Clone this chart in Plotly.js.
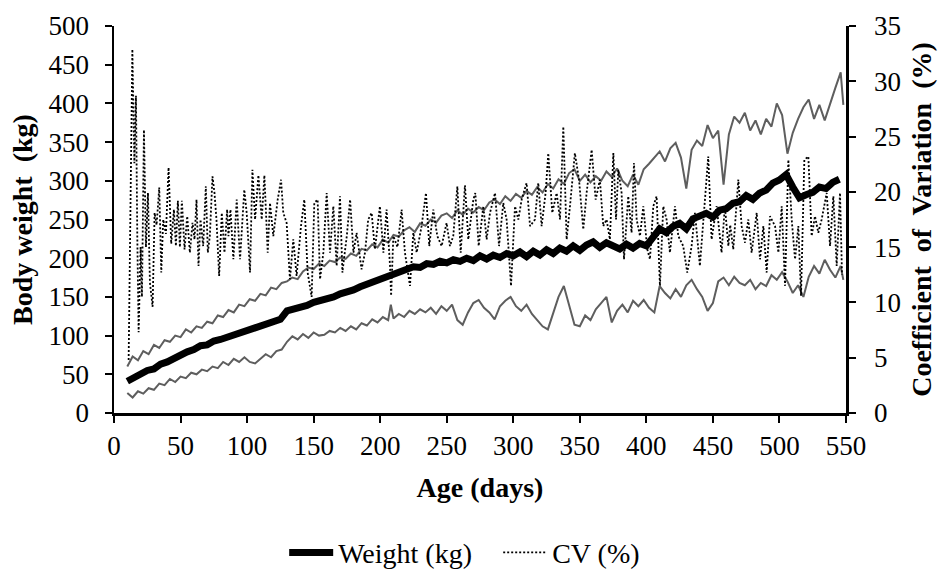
<!DOCTYPE html>
<html>
<head>
<meta charset="utf-8">
<script src="https://cdn.plot.ly/plotly-3.0.1.min.js"></script>
<style>html,body{margin:0;padding:0;background:#fff;}#chart{width:941px;height:571px;}</style>
</head>
<body>
<div id="chart"></div>
<script>
// Mean body weight (kg) by age (days)
const weightDays = [10,15,20,25,30,35,40,45,50,55,60,65,70,75,80,85,90,95,100,105,110,115,120,125,130,135,140,145,150,155,160,165,170,175,180,185,190,195,200,205,210,215,220,225,230,235,240,245,250,255,260,265,270,275,280,285,290,295,300,305,310,315,320,325,330,335,340,345,350,355,360,365,370,375,380,385,390,395,400,405,410,415,420,425,430,435,440,445,450,455,460,465,470,475,480,485,490,495,500,505,510,515,520,525,530,535,540,545];
const weightKg = [41,46,49,55,57,63,66,71,74,79,82,87,88,93,95,98,100,104,105,109,111,116,117,121,132,134,138,139,143,145,149,150,154,156,159,163,166,170,172,176,178,183,185,189,188,193,192,196,194,198,196,200,197,203,199,204,201,206,203,208,202,209,204,211,206,213,209,216,210,217,221,214,220,215,212,218,213,219,216,227,238,233,241,245,238,251,254,258,253,262,264,271,273,281,276,284,288,297,301,308,292,278,282,285,292,290,298,302];

// Mean + SD (upper grey line)
const upperDays = [10,14,18,22,26,30,34,38,42,46,50,54,58,62,66,70,74,78,82,86,90,94,98,102,106,110,114,118,122,126,130,134,138,142,146,150,154,158,162,166,170,174,178,182,186,190,194,198,202,206,210,214,218,222,226,230,234,238,242,246,250,254,258,262,266,270,274,278,282,286,290,294,298,302,306,310,314,318,322,326,330,334,338,342,346,350,354,358,362,366,370,374,378,382,386,390,394,398,402,406,410,414,418,422,426,430,434,438,442,446,450,454,458,462,466,470,474,478,482,486,490,494,498,502,506,510,514,518,522,526,530,534,538,542,546,548];
const upperKg = [60,73,68,80,76,88,84,94,92,100,98,108,104,112,110,118,116,126,124,133,130,140,138,147,145,154,152,162,160,168,170,175,173,183,188,186,193,190,197,195,201,199,206,203,212,210,218,214,224,220,230,228,236,240,234,245,242,250,246,255,258,252,262,256,264,259,266,262,272,276,270,280,274,283,278,287,282,292,285,296,290,302,296,310,315,300,308,298,306,300,312,305,316,300,293,308,295,315,322,330,338,325,342,349,330,290,340,352,345,372,355,365,295,360,383,375,388,365,378,360,380,370,400,385,335,362,380,395,405,380,398,378,400,420,440,398];

// Mean - SD (lower grey line)
const lowerDays = [10,14,18,22,26,30,34,38,42,46,50,54,58,62,66,70,74,78,82,86,90,94,98,102,106,110,114,118,122,126,130,134,138,142,146,150,154,158,162,166,170,174,178,182,186,190,194,198,202,206,208,210,214,218,222,226,230,234,238,242,246,250,254,258,262,266,270,274,278,282,286,290,294,298,302,306,310,314,318,322,326,330,334,338,342,346,350,354,358,362,366,370,374,378,382,386,390,394,398,402,406,410,414,418,422,426,430,434,438,442,446,450,454,458,462,466,470,474,478,482,486,490,494,498,502,506,510,514,518,522,526,530,534,538,542,546,548];
const lowerKg = [26,20,28,25,32,30,38,36,44,40,47,45,52,50,56,54,60,58,66,62,70,66,72,66,64,70,76,72,80,82,92,99,95,102,97,104,100,101,106,104,110,106,112,108,116,113,121,117,124,120,140,122,128,124,132,128,134,130,136,128,138,132,140,120,114,130,142,146,136,130,121,138,145,150,138,132,140,128,120,112,108,128,150,164,140,114,112,126,120,134,142,150,117,132,140,130,145,138,146,136,130,164,155,148,160,150,165,172,160,150,132,142,170,175,165,176,168,165,172,160,168,164,178,172,182,170,155,165,150,176,190,180,198,185,175,190,172];

// Coefficient of variation (%)
const cvDays = [11,13.8,15.3,16.5,17.5,18.5,20,21,22.5,24,25.5,27,29,30.5,32,34,35.5,37,39,41,43,45,46.5,48,49.5,51,53,55,57,59,60.5,62,63.5,65,67,69,70.5,72,74,75.5,77,79,81,83,85,86,87.5,89.7,92.2,94.7,97.9,99.7,102.2,104,106,108.5,111,113,115.5,117.2,119.7,123,125.5,127.2,129.7,132.2,134.7,137.2,140.5,143,145.5,148.5,150.5,153,154.8,157.3,159.8,162.3,164.8,167.3,169.8,171.6,174.9,177.4,179.9,182.3,186,188.6,191,193.6,196,199.8,202.4,204.8,207.4,208.2,209.9,213,216.1,218.6,222.4,224.9,227.4,231.1,234.4,236.9,239.9,242.9,246.2,249.9,252.4,254.9,258,260.5,263.7,266.2,270,271.5,274,277.5,280,282.5,286.3,289.3,292.5,295,298.3,301.3,303.8,306.3,310,312.6,316.3,318.8,321.3,324.3,326.3,329.3,332.6,335.1,337.6,340.1,342.6,346.3,349.4,352.6,355.1,358.9,361.9,365.1,367.6,370.1,372.6,375.2,377.2,378.9,381.4,383.2,386.4,388.9,390.7,392.7,395.2,397.7,400.7,402.7,405.2,407.7,410.2,412.7,415.2,417.7,421.5,424,427.7,430.7,434,436.5,440.2,442.7,446.5,449,452.8,456.5,459,461.6,463,465.3,469.1,471.6,474.1,476.6,479.1,482.9,485.4,487.9,490.4,492.9,496.7,499.2,501.7,504.2,506.7,509.2,511.7,514.2,516.2,518.7,521.7,524.2,526.7,529.2,531.7,535.5,538,540.5,543,545.5,547];
const cvPct = [4.8,32.9,22.6,28.7,16,7.3,15,10.5,25.6,15,19.9,11.8,9.6,18.1,17,20.4,12.7,17.5,16.2,22.2,15.3,18.4,15.1,19.2,15,19.2,14.8,17.8,14.5,17.2,15.7,19.3,13.3,17.5,15.1,20.5,14.5,16,21.4,19.9,17.5,12.4,18.1,14.5,18.4,16,18.4,13.9,19.3,13.9,20.2,18.1,12.7,22.0,17.5,21.5,17.5,21.5,14.5,19.0,16.0,19.3,21.1,18.1,17.2,12.1,15.7,12.4,16.9,19.3,12.7,10.5,19.0,19.3,12.1,14.5,19.9,14.5,18.7,13.3,19.6,12.7,16,19.3,14.5,16.3,13.0,14.5,17.5,18.1,14.8,18.7,14.5,18.4,13.3,10.6,16.0,15,18.4,14.5,11.5,16.3,14.5,16.9,19.9,15.1,18.4,16.0,15.1,17.2,15.1,16.0,20.5,14.5,20.6,15.7,19.3,19.9,15.1,18.7,15.7,18.1,19.9,15.1,19.0,17.5,11.5,18.7,17.5,19.3,20.8,16.9,17.5,20.8,16.9,19.9,23.5,18.1,19.9,17.5,25.9,15.7,18.7,23.5,21.1,16.6,19.9,23.8,19.3,21.1,16.9,17.5,15.7,23.5,17.5,22.0,19.9,13.9,19.6,16.3,22.6,17.5,16.0,18.7,14.8,13.9,18.7,19.6,11.5,18.7,17.5,14.5,18.7,16.0,15.1,12.7,15.1,18.1,13.3,16.9,23.2,15.7,18.7,14.5,18.7,15.1,17,14.8,21.1,16.9,15.4,17.5,14.5,18.1,13.9,16.9,12.7,17.8,16.9,14.5,18.7,11.5,22.9,17.5,13.9,16.9,10.6,22.9,23.2,16.0,17.8,16.3,17.5,19.9,15.1,19.6,13.3,19.9,12.5];

const xTickVals = [0,50,100,150,200,250,300,350,400,450,500,550];
const yTickVals = [0,50,100,150,200,250,300,350,400,450,500];
const y2TickVals = [0,5,10,15,20,25,30,35];

const serif = '"Liberation Serif", "Times New Roman", Times, "DejaVu Serif", serif';
const grey = '#5e5e5e';

const traces = [
  {x: upperDays, y: upperKg, type: 'scatter', mode: 'lines', line: {color: grey, width: 2}, showlegend: false, hoverinfo: 'skip'},
  {x: lowerDays, y: lowerKg, type: 'scatter', mode: 'lines', line: {color: grey, width: 2}, showlegend: false, hoverinfo: 'skip'},
  {x: weightDays, y: weightKg, type: 'scatter', mode: 'lines', name: 'Weight (kg)', line: {color: '#000', width: 7}, legendrank: 1},
  {x: cvDays, y: cvPct, type: 'scatter', mode: 'lines', name: 'CV (%)', yaxis: 'y2', line: {color: '#000', width: 1.8, dash: '2px,2px'}, legendrank: 2}
];

const axisCommon = {
  showline: true, linecolor: '#000', linewidth: 2.5,
  ticks: 'outside', ticklen: 7, tickwidth: 2, tickcolor: '#000',
  showgrid: false, zeroline: false,
  tickfont: {family: serif, size: 27, color: '#000'}
};

const layout = {
  width: 941, height: 571,
  margin: {l: 114, r: 95, t: 26, b: 158},
  paper_bgcolor: '#fff', plot_bgcolor: '#fff',
  font: {family: serif, color: '#000'},
  xaxis: Object.assign({}, axisCommon, {
    range: [0, 550], tickmode: 'array', tickvals: xTickVals,
    title: {text: '<b>Age (days)</b>', font: {family: serif, size: 28, color: '#000'}, standoff: 18}
  }),
  yaxis: Object.assign({}, axisCommon, {
    range: [0, 500], tickmode: 'array', tickvals: yTickVals, ticklabelstandoff: 10,
    title: {text: '<b>Body weight  (kg)</b>', font: {family: serif, size: 28, color: '#000'}, standoff: 8}
  }),
  yaxis2: Object.assign({}, axisCommon, {
    range: [0, 35], tickmode: 'array', tickvals: y2TickVals, overlaying: 'y', side: 'right', ticklabelstandoff: 13,
    title: {text: '<b>Coefficient  of  Variation  (%)</b>', font: {family: serif, size: 28, color: '#000'}, standoff: 12}
  }),
  showlegend: true,
  legend: {
    orientation: 'h', xref: 'container', yref: 'container',
    x: 0.302, xanchor: 'left', y: 0.032, yanchor: 'middle',
    font: {family: serif, size: 28, color: '#000'},
    itemwidth: 44, entrywidth: 155, entrywidthmode: 'pixels',
    bgcolor: 'rgba(0,0,0,0)', tracegroupgap: 0
  }
};

Plotly.newPlot('chart', traces, layout, {displayModeBar: false, staticPlot: true});
</script>
</body>
</html>
